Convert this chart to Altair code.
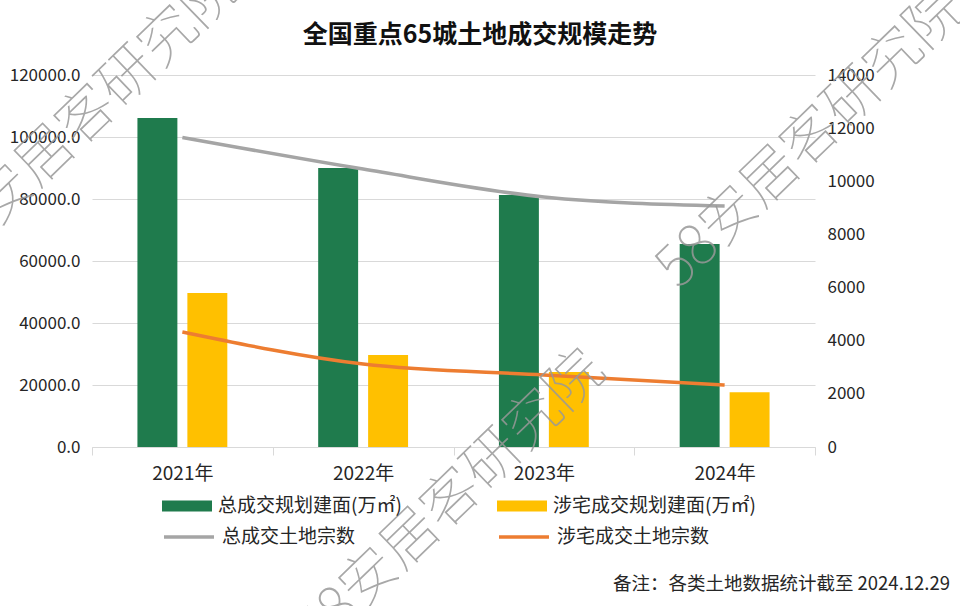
import altair as alt
import pandas as pd

# ---------------- data ----------------
years = ["2021年", "2022年", "2023年", "2024年"]
area_total = [106100, 90000, 81300, 65500]      # 总成交规划建面(万㎡)
area_res = [49700, 29700, 24200, 17700]         # 涉宅成交规划建面(万㎡)
count_total = [11650, 10460, 9410, 9070]        # 总成交土地宗数
count_res = [4330, 3120, 2710, 2330]            # 涉宅成交土地宗数

bar_series = ["总成交规划建面(万㎡)", "涉宅成交规划建面(万㎡)"]
line_series = ["总成交土地宗数", "涉宅成交土地宗数"]
bar_colors = ["#1f7b4d", "#ffc000"]
line_colors = ["#a5a5a5", "#ed7d31"]

left_ticks = [0, 20000, 40000, 60000, 80000, 100000, 120000]
right_ticks = [0, 2000, 4000, 6000, 8000, 10000, 12000, 14000]

title_text = ["全国重点65城土地成交规模走势"]
note_text = ["备注：各类土地数据统计截至 2024.12.29"]
watermark_text = ["58安居客研究院"]

FONT = "Noto Sans CJK SC"
TXT = "#262626"
GRID = "#d9d9d9"

bar_df = pd.DataFrame({
    "year": years * 2,
    "series": [bar_series[0]] * 4 + [bar_series[1]] * 4,
    "value": area_total + area_res,
})
line_df = pd.DataFrame({
    "year": years * 2,
    "series": [line_series[0]] * 4 + [line_series[1]] * 4,
    "count": count_total + count_res,
})

x_axis = alt.Axis(title=None, labelAngle=0, tickBand="extent",
                  domainColor=GRID, tickColor=GRID, tickSize=8,
                  labelFontSize=19, labelPadding=9, labelColor=TXT,
                  labelFont=FONT, grid=False)

bars = alt.Chart(bar_df).mark_bar().encode(
    x=alt.X("year:N", sort=years,
            scale=alt.Scale(paddingInner=0, paddingOuter=0),
            axis=x_axis),
    xOffset=alt.XOffset("series:N", sort=bar_series,
                        scale=alt.Scale(paddingInner=0.2, paddingOuter=0.91)),
    y=alt.Y("value:Q", scale=alt.Scale(domain=[0, 120000]),
            axis=alt.Axis(title=None, values=left_ticks, format=".1f",
                          grid=True, gridColor=GRID, domain=False, ticks=False,
                          labelPadding=12, labelFontSize=17, labelColor=TXT,
                          labelFont=FONT)),
    color=alt.Color("series:N", sort=bar_series,
                    scale=alt.Scale(domain=bar_series, range=bar_colors),
                    legend=alt.Legend(title=None, orient="none", legendX=70, legendY=406,
                                      columns=2, columnPadding=95,
                                      symbolType="M-1,-0.22L1,-0.22L1,0.22L-1,0.22Z",
                                      symbolSize=2500, symbolStrokeWidth=0,
                                      labelFontSize=19, labelOffset=6, labelColor=TXT,
                                      labelFont=FONT, labelLimit=400)),
)

lines = alt.Chart(line_df).mark_line(strokeWidth=3.5, interpolate="monotone").encode(
    x=alt.X("year:N", sort=years, axis=x_axis),
    y=alt.Y("count:Q", scale=alt.Scale(domain=[0, 14000]),
            axis=alt.Axis(title=None, orient="right", values=right_ticks, format="d",
                          grid=False, domain=False, ticks=False,
                          labelPadding=12, labelFontSize=17, labelColor=TXT,
                          labelFont=FONT)),
    color=alt.Color("series:N", sort=line_series,
                    scale=alt.Scale(domain=line_series, range=line_colors),
                    legend=alt.Legend(title=None, orient="none", legendX=70, legendY=435,
                                      columns=2, columnPadding=136,
                                      symbolType="stroke", symbolSize=2500,
                                      symbolStrokeWidth=3.5,
                                      labelFontSize=19, labelOffset=6, labelColor=TXT,
                                      labelFont=FONT, labelLimit=400)),
)

title_layer = alt.Chart(pd.DataFrame({"t": title_text})).mark_text(
    font=FONT, fontSize=25, fontWeight="bold", color="#111111",
    align="center", baseline="middle",
).encode(text="t:N", x=alt.value(388), y=alt.value(-40))

note_layer = alt.Chart(pd.DataFrame({"t": note_text})).mark_text(
    font=FONT, fontSize=18.5, color=TXT, align="right", baseline="middle",
).encode(text="t:N", x=alt.value(858), y=alt.value(509))

wm_style = dict(font=FONT, fontSize=57, fontWeight=100, color="#999999",
                opacity=0.85, align="left", baseline="middle", angle=316)
wm_df = pd.DataFrame({"t": watermark_text})
wm1 = alt.Chart(wm_df).mark_text(**wm_style).encode(text="t:N", x=alt.value(575), y=alt.value(203))
wm2 = alt.Chart(wm_df).mark_text(**wm_style).encode(text="t:N", x=alt.value(-150), y=alt.value(182))
wm3 = alt.Chart(wm_df).mark_text(**wm_style).encode(text="t:N", x=alt.value(215), y=alt.value(565))

chart = alt.layer(bars, lines, title_layer, note_layer, wm1, wm2, wm3).resolve_scale(
    y="independent", color="independent"
).properties(
    width=723, height=372,
    padding={"left": 92, "top": 75, "right": 145, "bottom": 159},
    autosize=alt.AutoSizeParams(type="none"),
    background="white",
).configure_view(stroke=None)

chart.save("out.html", embed_options={"renderer": "svg", "actions": False})
